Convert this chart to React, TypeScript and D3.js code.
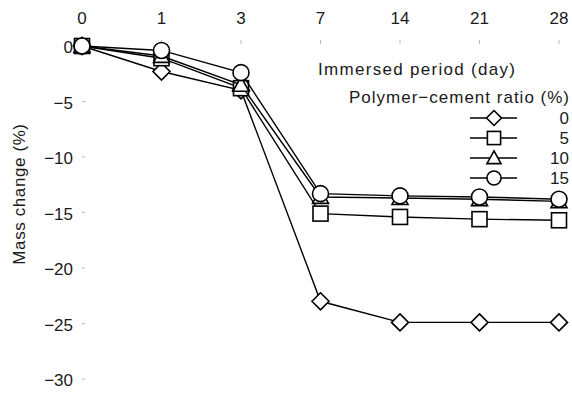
import React from "react";
import * as d3 from "d3";

const days = ["0", "1", "3", "7", "14", "21", "28"];
const yTicks = [0, -5, -10, -15, -20, -25, -30];
const seriesNames = ["0", "5", "10", "15"];
const symbols = ["diamond", "square", "triangle", "circle"];
const ratio0 = [0, -2.3, -4.0, -23.0, -24.9, -24.9, -24.9];
const ratio5 = [0, -1.1, -3.8, -15.1, -15.4, -15.6, -15.7];
const ratio10 = [0, -0.9, -3.5, -13.6, -13.7, -13.8, -14.0];
const ratio15 = [0, -0.4, -2.4, -13.3, -13.5, -13.6, -13.8];
const seriesValues = [ratio0, ratio5, ratio10, ratio15];

const W = 572;
const H = 394;
const FONT = "'Liberation Sans', Arial, sans-serif";

function Marker({ type, x, y, k = 1 }: { type: string; x: number; y: number; k?: number }) {
  const common = { fill: "#fff", stroke: "#000", strokeWidth: 1.6 };
  if (type === "diamond") {
    const r = 8.5 * k;
    return <path d={`M${x},${y - r}L${x + r},${y}L${x},${y + r}L${x - r},${y}Z`} {...common} />;
  }
  if (type === "square") {
    const s = 15 * k;
    return <rect x={x - s / 2} y={y - s / 2} width={s} height={s} {...common} />;
  }
  if (type === "triangle") {
    const r = 8 * k;
    return <path d={`M${x},${y - r}L${x + r},${y + r * 0.8}L${x - r},${y + r * 0.8}Z`} {...common} />;
  }
  return <circle cx={x} cy={y} r={8 * k} {...common} />;
}

export default function App() {
  const x = d3.scalePoint<string>().domain(days).range([82, 559]);
  const y = d3.scaleLinear().domain([0, -30]).range([46, 379]);
  const line = d3
    .line<number>()
    .x((_, i) => x(days[i]) as number)
    .y((d) => y(d));

  const legendY = d3.scalePoint<string>().domain(seriesNames).range([118, 178]);
  const fmt = (v: number) => (v < 0 ? "\u2212" + Math.abs(v) : String(v));

  return (
    <svg
      width={W}
      height={H}
      style={{ position: "absolute", left: 0, top: 0, background: "#fff" }}
      fontFamily={FONT}
    >
      {days.map((d) => (
        <g key={"xt" + d}>
          <text x={x(d)} y={24} textAnchor="middle" fontSize={17} fill="#1a1a1a">
            {d}
          </text>
          <line x1={x(d)} x2={x(d)} y1={40} y2={44} stroke="#bbb" strokeWidth={1} />
        </g>
      ))}
      {yTicks.map((t) => (
        <g key={"yt" + t}>
          <text x={73} y={y(t) + 7} textAnchor="end" fontSize={17} fill="#1a1a1a">
            {fmt(t)}
          </text>
          <line x1={82} x2={85} y1={y(t)} y2={y(t)} stroke="#bbb" strokeWidth={1} />
        </g>
      ))}
      <text
        transform={`translate(25,${194}) rotate(-90)`}
        textAnchor="middle"
        fontSize={17}
        letterSpacing={0.6}
        fill="#1a1a1a"
      >
        Mass change (%)
      </text>
      <text x={318} y={75} fontSize={17} letterSpacing={1.3} fill="#1a1a1a">
        Immersed period (day)
      </text>
      <text x={570} y={103} textAnchor="end" fontSize={17} letterSpacing={1} fill="#1a1a1a">
        Polymer−cement ratio (%)
      </text>
      {seriesNames.map((n, i) => {
        const ly = legendY(n) as number;
        return (
          <g key={"lg" + n}>
            <line x1={470} x2={517} y1={ly} y2={ly} stroke="#000" strokeWidth={1.4} />
            <Marker type={symbols[i]} x={494} y={ly} k={0.88} />
            <text x={569} y={ly + 6} textAnchor="end" fontSize={17} fill="#1a1a1a">
              {n}
            </text>
          </g>
        );
      })}
      {seriesValues.map((vals, si) => (
        <g key={"s" + si}>
          <path d={line(vals) || ""} fill="none" stroke="#000" strokeWidth={1.4} />
          {vals.map((v, i) => (
            <Marker key={i} type={symbols[si]} x={x(days[i]) as number} y={y(v)} />
          ))}
        </g>
      ))}
    </svg>
  );
}
